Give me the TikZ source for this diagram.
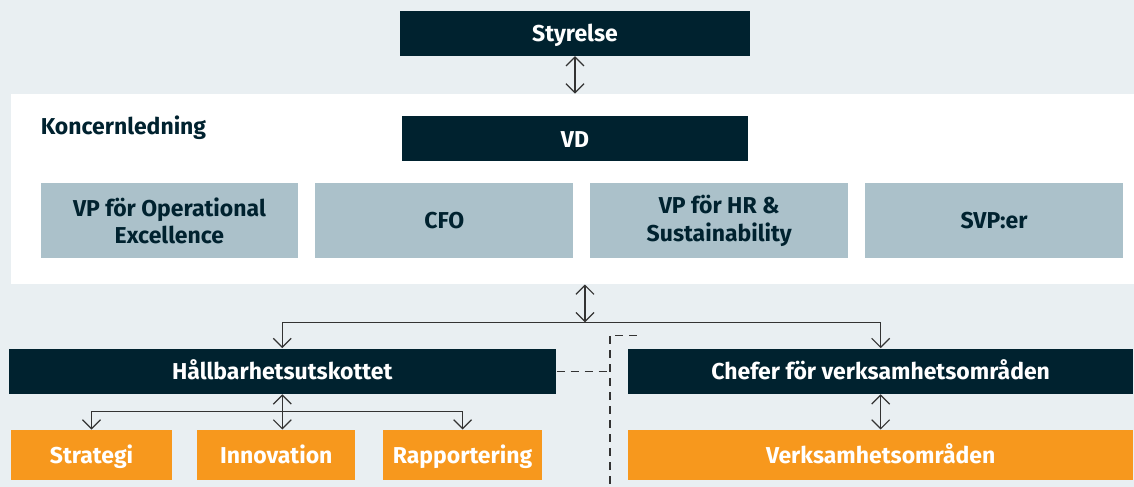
\documentclass[tikz,border=0pt]{standalone}
\usepackage{fontspec}
\setmainfont{Fira Sans}
\usetikzlibrary{positioning}
\usetikzlibrary{arrows.meta}

\definecolor{navy}{HTML}{00222F}
\definecolor{steel}{HTML}{ABC1CA}
\definecolor{amber}{HTML}{F7981D}
\definecolor{mist}{HTML}{E9EFF2}
\definecolor{wire}{HTML}{333333}

\begin{document}
\begin{tikzpicture}[x=0.5pt, y=-0.5pt,
                    every node/.append style={font=\bfseries\fontsize{11.5}{14}\selectfont},
                    darkbox/.style={rectangle, fill=navy, text=white, minimum height=22.5pt, align=center, text height=1.85ex, text depth=0.25ex},
                    greybox/.style={rectangle, fill=steel, text=navy, minimum width=129pt, minimum height=37.5pt, align=center},
                    orangebox/.style={rectangle, fill=amber, text=white, minimum height=25pt, align=center, text height=1.85ex, text depth=0.25ex},
                    every path/.append style={line width=0.6pt, draw=wire},
                    link/.style={{Straight Barb[length=4.5pt,width=9pt]}-{Straight Barb[length=4.5pt,width=9pt]}},
                    down/.style={-{Straight Barb[length=4.5pt,width=9pt]}},
                    node distance=8pt]
    % Background and white panel
    \fill [mist] (0,0) rectangle (1134,486);
    \node [rectangle, fill=white, draw=none, minimum width=562pt, minimum height=95pt, anchor=north west, inner sep=0pt] (koncern) at (10,93) {};
    \node [text=navy, anchor=west] (koncern_label) at (33,127) {Koncernledning};

    \node [darkbox, minimum width=175pt] (styrelse) at (575,32.5) {Styrelse};
    \node [darkbox, minimum width=173pt] (vd) at (575,138.5) {VD};

    \node [greybox] (opex) at (169,220.5) {VP för Operational\\Excellence};
    \node [greybox, right=of opex] (cfo) {CFO};
    \node [greybox, right=of cfo] (hr) {VP för HR \&\\Sustainability};
    \node [greybox, right=of hr] (svp) {SVP:er};

    \node [darkbox, minimum width=274pt] (hallbar) at (282,371) {Hållbarhetsutskottet};
    \node [darkbox, minimum width=253pt] (chefer) at (881,371) {Chefer för verksamhetsområden};

    \node [orangebox, minimum width=81pt] (strategi) at (91,455) {Strategi};
    \node [orangebox, minimum width=79pt] (innovation) at (276,455) {Innovation};
    \node [orangebox, minimum width=79.5pt] (rapport) at (462.5,455) {Rapportering};
    \node [orangebox, minimum width=253pt] (verksamhet) at (881,455) {Verksamhetsområden};

    % Split points
    \coordinate (split) at (585,322);
    \coordinate (subsplit) at (282,411);
    \coordinate (dash_top) at (610,335);
    \coordinate (dash_end) at (637,335);
    \coordinate (dash_bottom) at (610,486);

    % Draw the arrows
    \draw [link] (styrelse.south)       -- (styrelse.south|-koncern.north);
    \draw [link] (split|-koncern.south) -- (split);
    \draw [down] (split)                -| (hallbar.north);
    \draw [down] (split)                -| (chefer.north);
    \draw [link] (hallbar.south)        -- (hallbar.south|-innovation.north);
    \draw [down] (subsplit)             -| (strategi.north);
    \draw [down] (subsplit)             -| (rapport.north);
    \draw [link] (chefer.south)         -- (verksamhet.north);
    % Draw the dashed lines
    \draw [dash pattern=on 4pt off 3pt] (hallbar.east) -- (hallbar.east-|dash_top);
    \draw [dash pattern=on 4pt off 3pt] (dash_end) -- (dash_top) -- (dash_bottom);
\end{tikzpicture}
\end{document}
